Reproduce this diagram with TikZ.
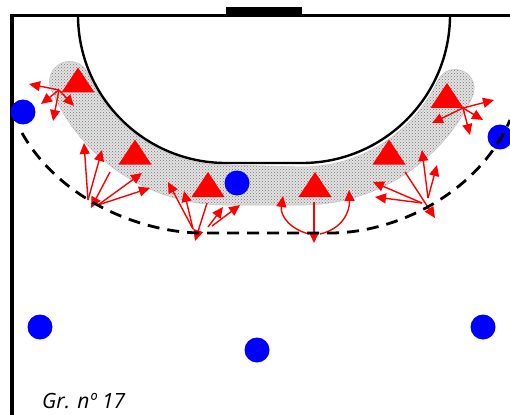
\documentclass[tikz,border=0pt]{standalone}
\usepackage{fontspec}
\newfontfamily\capfont{Open Sans}
\usetikzlibrary{arrows.meta,patterns,calc}
\begin{document}
\begin{tikzpicture}[x=1pt,y=-1pt,
  court/.style={black,line width=3pt},
  sixm/.style={black,line width=2.4pt},
  ninem/.style={black,line width=2.8pt,dash pattern=on 12pt off 8pt},
  band/.style={preaction={fill=gray!22},pattern=crosshatch dots,pattern color=black!55,draw=gray!45,line width=0.6pt},
  player/.style={circle,fill=blue,minimum size=25pt,inner sep=0pt},
  mv/.style={red,line width=1.4pt,-{Triangle[length=11pt,width=10pt]}},
  defender/.pic={\fill[red] (-16.5,12.5) -- (0,-12.5) -- (16.5,12.5) -- cycle;}
]
\useasboundingbox[fill=white] (0,0) rectangle (510,414);
% court
\coordinate (c1) at (226,15);
\coordinate (c2) at (302,15);
\draw[court,line width=3.5pt] (12,420) -- (12,15.5);
\draw[court] (10.25,15.5) -- (515,15.5);
\fill (226,7) rectangle (302,16.5);
% shaded band
\path[band] ($(c1)+(157:190)$) arc[start angle=157,end angle=90,radius=190]
  -- ($(c2)+(90:190)$) arc[start angle=90,end angle=25,radius=188]
  arc[start angle=25,end angle=-155,radius=19]
  arc[start angle=25,end angle=90,radius=150]
  -- ($(c1)+(90:150)$) arc[start angle=90,end angle=157,radius=150]
  arc[start angle=-23,end angle=-203,radius=20] -- cycle;
% 6 m line
\draw[sixm] ($(c1)+(180:148)$) arc[start angle=180,end angle=90,radius=148]
  -- ($(c2)+(90:148)$) arc[start angle=90,end angle=0,radius=148];
% defenders
\pic (t1) at (78,80) {defender};
\pic (t2) at (135,152) {defender};
\pic (t3) at (208,184.5) {defender};
\pic (t4) at (315,184.5) {defender};
\pic (t5) at (389,152) {defender};
\pic (t6) at (447,95.5) {defender};
% movement arrows
\coordinate (a0) at (59,90);
\coordinate (a1) at (29,84);
\coordinate (a2) at (41,104);
\coordinate (a3) at (53,121);
\coordinate (a4) at (74,106);
\foreach \t in {a1,a2,a3,a4} \draw[mv] (a0) -- (\t);
\coordinate (b0) at (88,200);
\coordinate (b1) at (84,143);
\coordinate (b2) at (102,150);
\coordinate (b3s) at (110,172);
\coordinate (b3) at (91,208);
\coordinate (b4s) at (98,205);
\coordinate (b4) at (142,173);
\coordinate (b5) at (150,188);
\draw[mv] (b0) -- (b1);
\draw[mv] (b0) -- (b2);
\draw[mv] (b3s) -- (b3);
\draw[mv] (b4s) -- (b4);
\draw[mv] (b4s) -- (b5);
\coordinate (d0) at (193,229);
\coordinate (d1) at (168,182);
\coordinate (d2) at (184,191);
\coordinate (d3s) at (207,203);
\coordinate (d3) at (195,241);
\coordinate (d4s) at (208,227);
\coordinate (d4) at (223,207);
\coordinate (d5s) at (212,226);
\coordinate (d5) at (240,205);
\draw[mv] (d0) -- (d1);
\draw[mv] (d0) -- (d2);
\draw[mv] (d3s) -- (d3);
\draw[mv] (d4s) -- (d4);
\draw[mv] (d5s) -- (d5);
\coordinate (e0) at (314,202);
\coordinate (e1) at (314,243);
\coordinate (e2s) at (309,234);
\coordinate (e2) at (283,196);
\coordinate (e3s) at (320,234);
\coordinate (e3) at (349,190);
\draw[mv] (e0) -- (e1);
\draw[mv] (e2s) .. controls (290,229) and (280,216) .. (e2);
\draw[mv] (e3s) .. controls (342,229) and (350,212) .. (e3);
\coordinate (f0s) at (405,172);
\coordinate (f0) at (435,218);
\coordinate (f1s) at (428,198);
\coordinate (f1) at (422,150);
\coordinate (f2) at (437,165);
\coordinate (f3s) at (422,203);
\coordinate (f3) at (373,182);
\coordinate (f4) at (375,197);
\draw[mv] (f0s) -- (f0);
\draw[mv] (f1s) -- (f1);
\draw[mv] (f1s) -- (f2);
\draw[mv] (f3s) -- (f3);
\draw[mv] (f3s) -- (f4);
\coordinate (g0) at (463,108);
\coordinate (g1) at (494,100);
\coordinate (g2) at (432,123);
\coordinate (g3) at (483,120);
\coordinate (g4) at (470,135);
\foreach \t in {g1,g2,g3,g4} \draw[mv] (g0) -- (\t);
% attackers
\node[player] (p1) at (23,112) {};
\node[player] (p2) at (237,183) {};
\node[player] (p3) at (500,137) {};
\node[player] (p4) at (40,327) {};
\node[player] (p5) at (257,350) {};
\node[player] (p6) at (483,327) {};
% 9 m line
\draw[ninem] (22,133) .. controls (60,200) and (140,232) .. (200,233)
  -- (330,233) .. controls (400,233) and (480,190) .. (510,120);
% caption
\node[anchor=base west,inner sep=0pt,font=\capfont\itshape\fontsize{21}{21}\selectfont] (cap) at (42,408) {Gr. nº 17};
\end{tikzpicture}
\end{document}
